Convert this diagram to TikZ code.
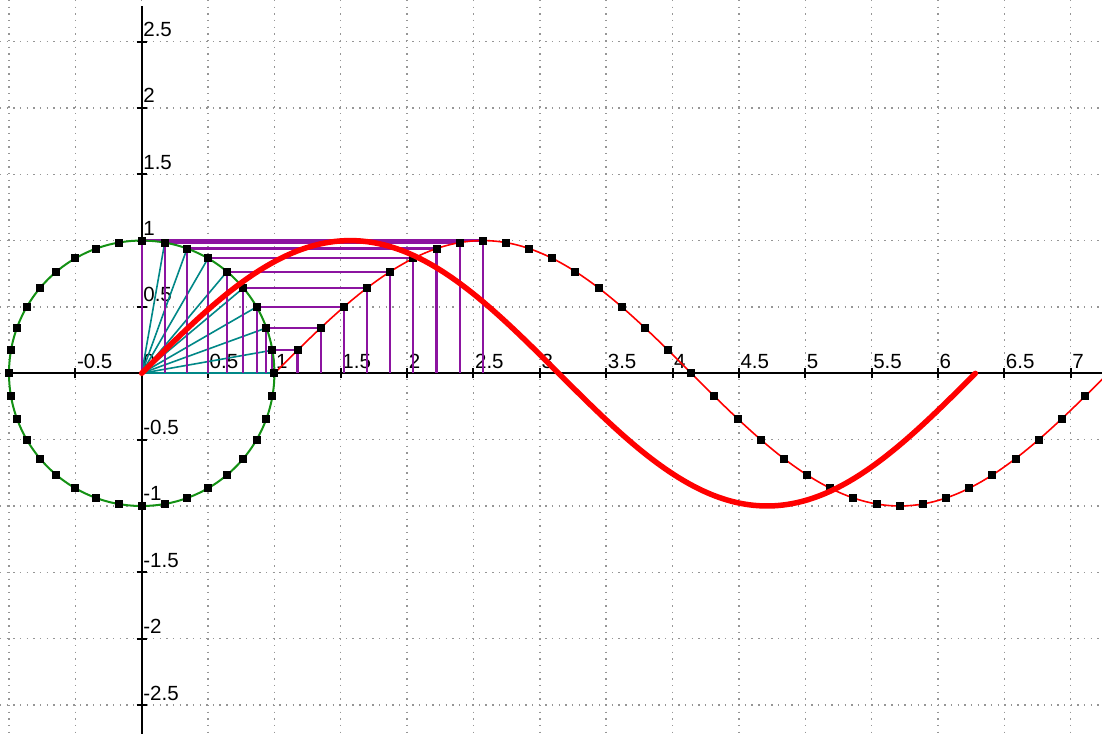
\documentclass[tikz,border=0pt]{standalone}
\usepackage{fontspec}
\setmainfont{Liberation Sans}
\definecolor{projpurple}{RGB}{140,20,160}
\definecolor{rayteal}{RGB}{0,135,135}
\definecolor{circgreen}{RGB}{20,145,20}
\definecolor{gridgray}{RGB}{150,150,150}
\begin{document}
\begin{tikzpicture}[x=132.7pt,y=132.7pt,
  gridline/.style={draw=gridgray, line width=1.4pt, dash pattern=on 1.4pt off 5.25pt},
  axisline/.style={draw=black, line width=2pt},
  tickline/.style={draw=black, line width=2pt},
  lbl/.style={font=\fontsize{20.5}{20.5}\selectfont, anchor=base west, inner sep=0pt},
  ray/.style={draw=rayteal, line width=1.6pt},
  proj/.style={draw=projpurple, line width=2.2pt},
  circ/.style={draw=circgreen, line width=2pt},
  sinthin/.style={draw=red, line width=1.6pt},
  sinthick/.style={draw=red, line width=5.5pt, line cap=round},
  dotmark/.style={fill=black, draw=none, rectangle, minimum size=8pt, inner sep=0pt}
]
% frame
\path[use as bounding box, fill=white] (-1.0678,-2.718) rectangle (7.2366,2.813);
\clip (-1.0678,-2.718) rectangle (7.2366,2.813);
\coordinate (o) at (0,0);
% grid
\foreach \gx in {-1,-0.5,...,7}
  \draw[gridline] (\gx,2.813) -- (\gx,-2.718);
\foreach \gy in {-2.5,-2,...,2.5}
  \draw[gridline] (-1.0678,\gy) -- (7.2366,\gy);
% axes
\coordinate (xl) at (-1,0);
\coordinate (xr) at (7.2366,0);
\coordinate (yt) at (0,2.77);
\coordinate (yb) at (0,-2.718);
\draw[axisline] (xl) -- (xr);
\draw[axisline] (yb) -- (yt);
\foreach \t in {-0.5,0.5,1,...,7}
  \draw[tickline] ([yshift=-5pt]\t,0) -- ([yshift=5pt]\t,0);
\foreach \t in {-2.5,-2,...,-0.5,0.5,1,...,2.5}
  \draw[tickline] ([xshift=-5pt]0,\t) -- ([xshift=5pt]0,\t);
% labels
\foreach \t/\s in {-0.5/-0.5,0/0,0.5/0.5,1/1,1.5/1.5,2/2,2.5/2.5,3/3,3.5/3.5,4/4,4.5/4.5,5/5,5.5/5.5,6/6,6.5/6.5,7/7}
  \node[lbl] (xlab\s) at ([xshift=1.5pt,yshift=5pt]\t,0) {\s};
\foreach \t/\s in {2.5/2.5,2/2,1.5/1.5,1/1,0.5/0.5,-0.5/-0.5,-1/-1,-1.5/-1.5,-2/-2,-2.5/-2.5}
  \node[lbl] (ylab\s) at ([xshift=1.5pt,yshift=5pt]0,\t) {\s};
% points
\foreach \a in {0,10,...,350}{
  \coordinate (c\a) at (\a:1);
  \coordinate (s\a) at ({1+\a*pi/180},{sin(\a)});
  \coordinate (cb\a) at (c\a |- o);
  \coordinate (sb\a) at (s\a |- o);
}
% radii
\foreach \a in {0,10,...,90}
  \draw[ray] (o) -- (c\a);
% projections
\foreach \a in {10,20,...,90}{
  \draw[proj] (c\a) -- (cb\a);
  \draw[proj] (s\a) -- (sb\a);
  \draw[proj] (c\a) -- (s\a);
}
% circle
\draw[circ] (o) circle[radius=1];
% shifted sine
\draw[sinthin] plot[domain=1:7.3, samples=220] (\x,{sin((\x-1) r)});
% dots
\foreach \a in {0,10,...,350}{
  \node[dotmark] (dc\a) at (c\a) {};
  \node[dotmark] (ds\a) at (s\a) {};
}
% sine
\draw[sinthick] plot[domain=0:6.2832, samples=200] (\x,{sin(\x r)});
\end{tikzpicture}
\end{document}
